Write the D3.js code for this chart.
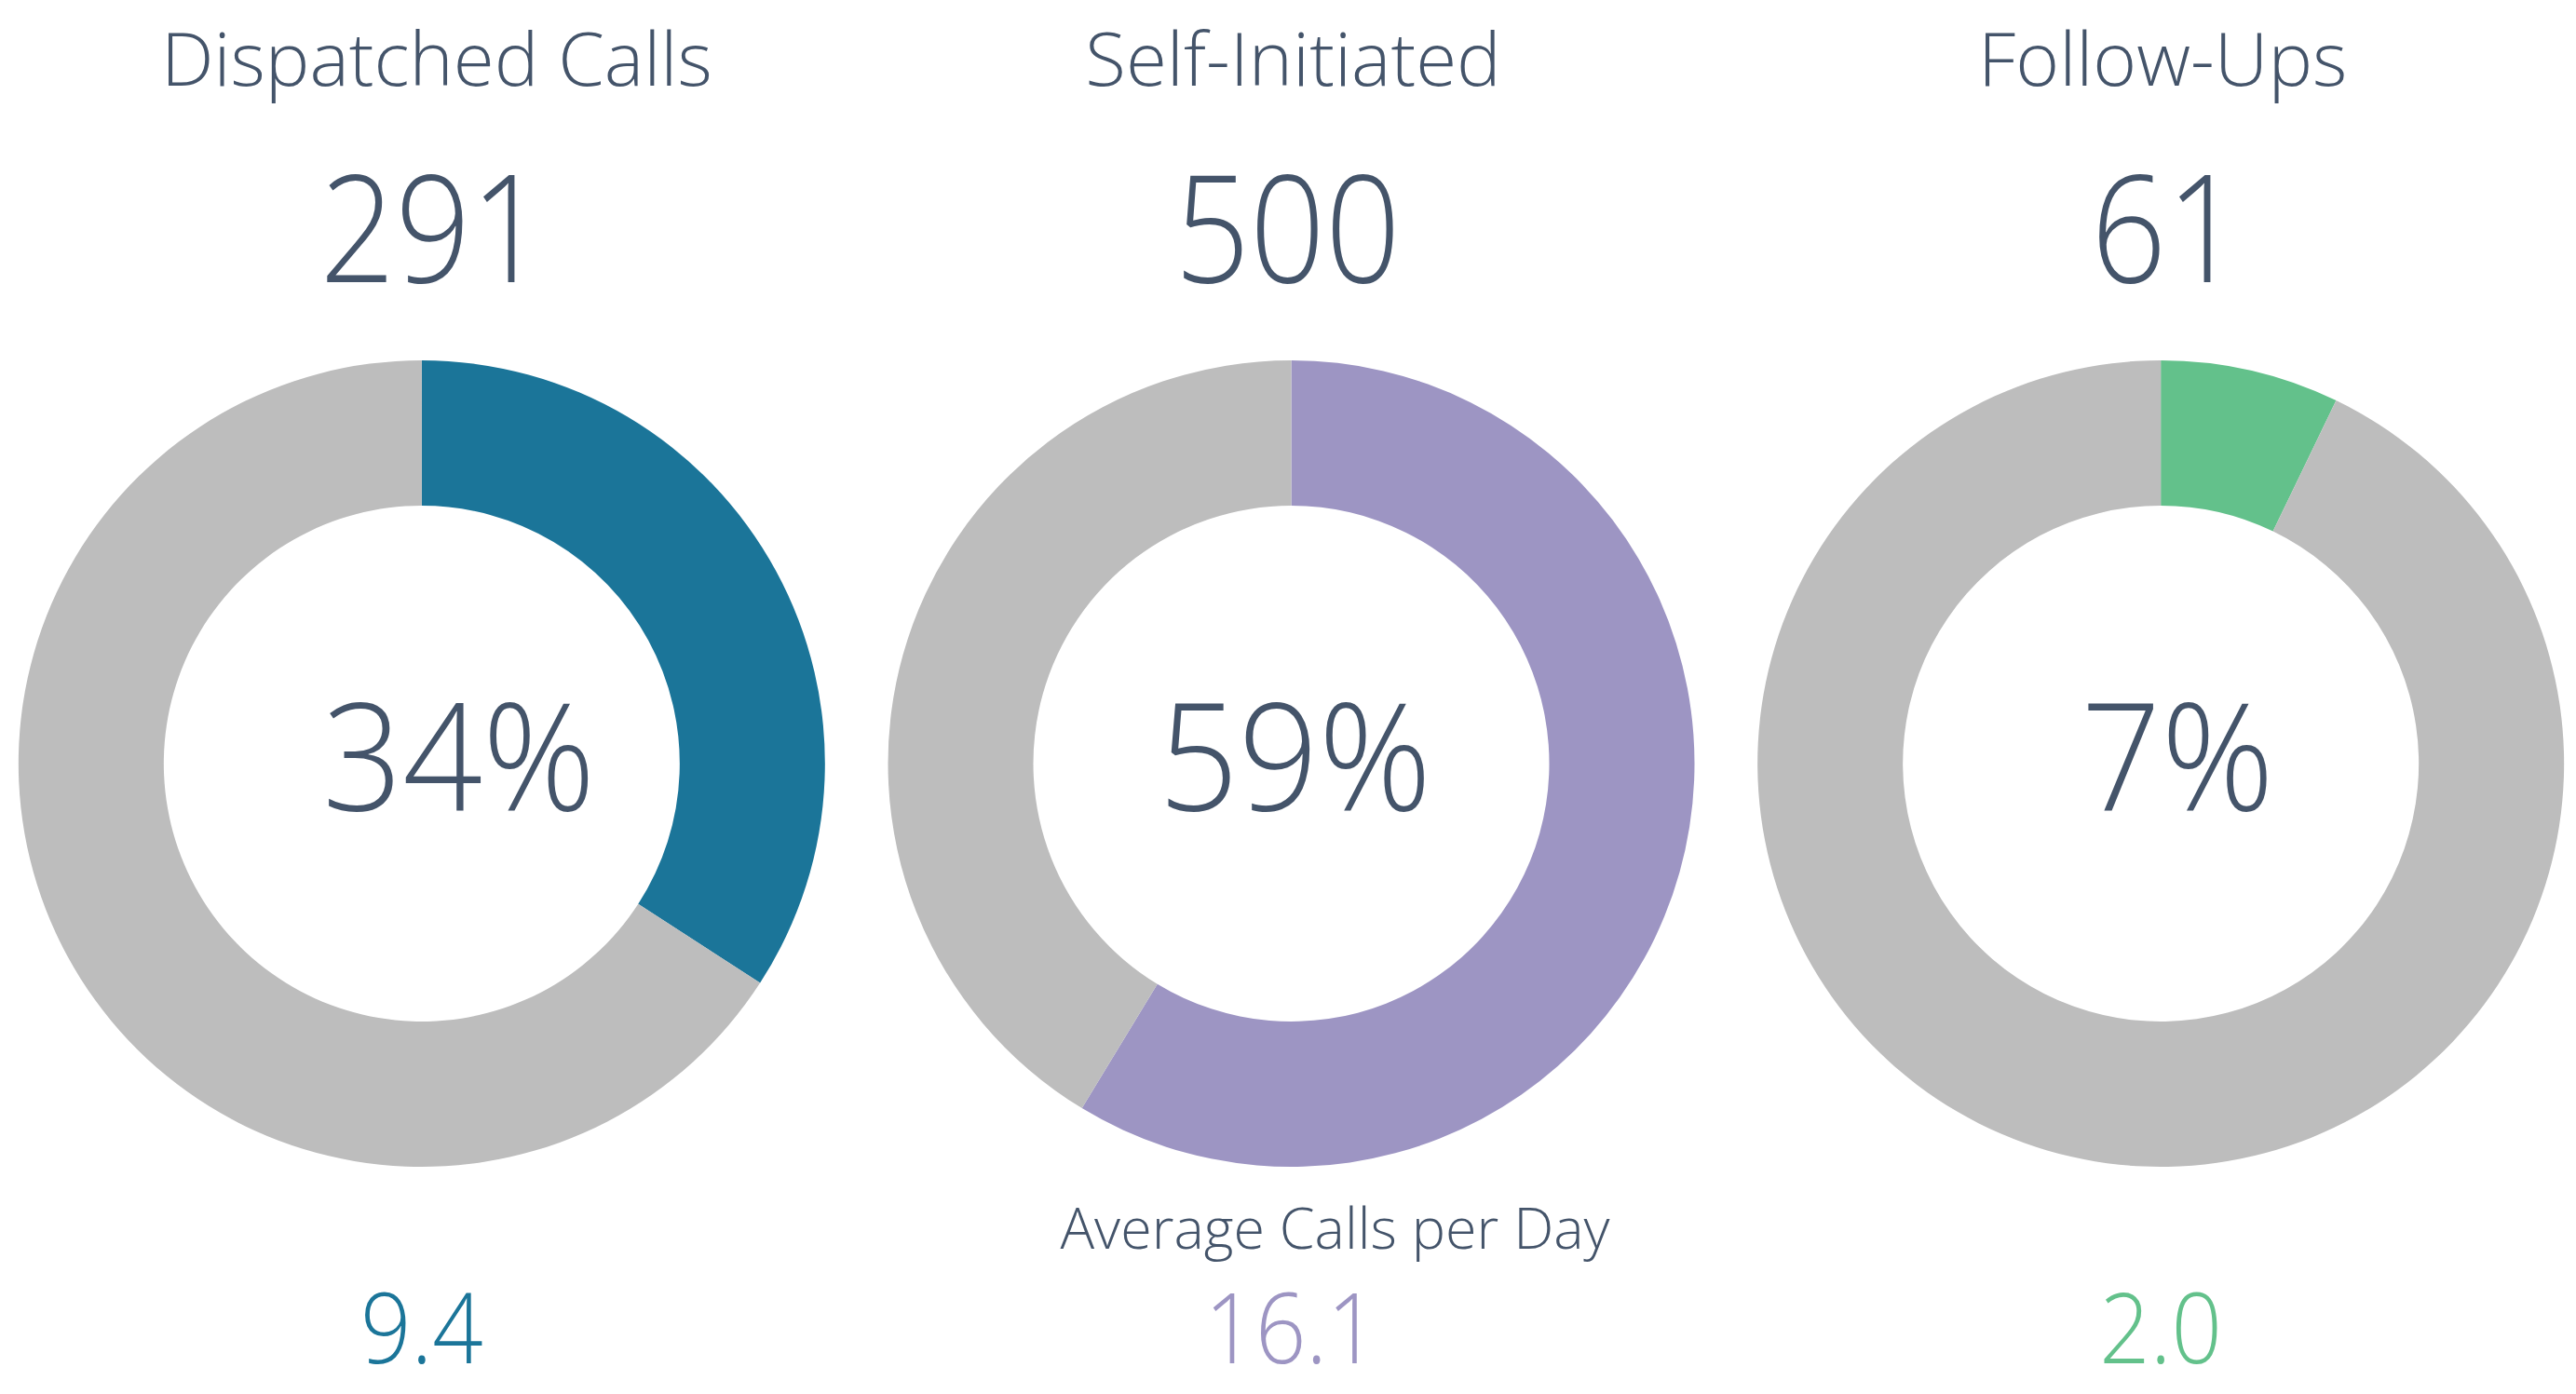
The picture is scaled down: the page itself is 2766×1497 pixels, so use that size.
<!DOCTYPE html>
<html>
<head>
<meta charset="utf-8">
<script src="https://cdn.jsdelivr.net/npm/d3@7"></script>
<style>
  html, body { margin: 0; padding: 0; background: #ffffff; }
  svg { display: block; }
  text { font-family: "Open Sans", "Noto Sans", sans-serif; font-weight: 300; }
</style>
</head>
<body>
<svg id="chart" width="2766" height="1497"></svg>
<script>
const categories = ["Dispatched Calls", "Self-Initiated", "Follow-Ups"];
const counts = [291, 500, 61];
const avgPerDay = ["9.4", "16.1", "2.0"];
const seriesColors = ["#1B7599", "#9D95C3", "#63C18B"];
const restColor = "#BDBDBD";
const footerLabel = "Average Calls per Day";

const W = 2766, H = 1497;
const textColor = "#44546A";
const total = d3.sum(counts);
// small horizontal nudges seen in the reference (title, count, percent) per column
const titleNudge = [16, 2, 2];
const countNudge = [12, -4, 6];
const pctNudge = [40, 4, 18];

const svg = d3.select("#chart");
svg.append("rect").attr("width", W).attr("height", H).attr("fill", "#fff");

const x = d3.scalePoint().domain(categories).range([-14, 2787]).padding(0.5);
const cy = 820;
const outerR = 433, innerR = 277;

const pie = d3.pie().sort(null).value(d => d);
const arc = d3.arc().innerRadius(innerR).outerRadius(outerR);

function label(parent, tx, ty, sx, size, fill, str) {
  return parent.append("text")
    .attr("transform", `translate(${tx},${ty}) scale(${sx},1)`)
    .attr("text-anchor", "middle")
    .attr("font-size", size)
    .attr("fill", fill)
    .text(str);
}

categories.forEach((cat, i) => {
  const cx = x(cat);
  const g = svg.append("g").attr("transform", `translate(${cx},${cy})`);
  const slices = pie([counts[i], total - counts[i]]);
  g.selectAll("path").data(slices).join("path")
    .attr("d", arc)
    .attr("fill", (d, j) => j === 0 ? seriesColors[i] : restColor);

  label(g, pctNudge[i], 50, 0.94, 160, textColor,
        Math.round(counts[i] / total * 100) + "%");
  label(svg, cx + titleNudge[i], 92, 1, 80, textColor, cat);
  label(svg, cx + countNudge[i], 303, 0.885, 160, textColor, counts[i]);
  label(svg, cx, 1464, 0.9, 106, seriesColors[i], avgPerDay[i]);
});

label(svg, x(categories[1]) + 47, 1341, 1, 61, textColor, footerLabel);
</script>
</body>
</html>
